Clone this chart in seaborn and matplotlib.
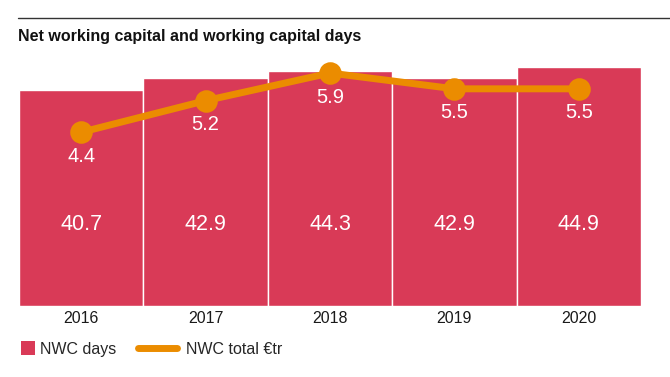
import matplotlib
matplotlib.use("Agg")
import matplotlib.pyplot as plt
import seaborn as sns
import pandas as pd
from matplotlib.patches import Patch
from matplotlib.lines import Line2D

years = ["2016", "2017", "2018", "2019", "2020"]
nwc_days = [40.7, 42.9, 44.3, 42.9, 44.9]
nwc_total = [4.4, 5.2, 5.9, 5.5, 5.5]

title = "Net working capital and working capital days"
legend_labels = ["NWC days", "NWC total €tr"]

RED = "#D93A57"
ORANGE = "#EB8C00"

sns.set_theme(style="white")
plt.rcParams["font.family"] = ["Liberation Sans", "DejaVu Sans"]

df = pd.DataFrame({"year": years, "days": nwc_days, "total": nwc_total})

fig = plt.figure(figsize=(6.7, 3.77), dpi=100)
ax = fig.add_axes([19 / 670, 71 / 377, 622 / 670, 246 / 377])

sns.barplot(data=df, x="year", y="days", color=RED, saturation=1, width=1,
            edgecolor="white", linewidth=1, ax=ax)
ax.set_ylim(0, 46.3)
ax.set_xlim(-0.5, 4.5)

for i, v in enumerate(nwc_days):
    ax.text(i, 15.4, f"{v}", ha="center", va="center", color="white", fontsize=15.5)

ax2 = ax.twinx()
sns.pointplot(data=df, x="year", y="total", color=ORANGE, ax=ax2,
              markersize=12.5, linewidth=5)
ax2.set_ylim(0, 6.23)
ax2.set_xlim(-0.5, 4.5)
for i, v in enumerate(nwc_total):
    ax2.annotate(f"{v}", (i, v), xytext=(0, -24), textcoords="offset pixels",
                 ha="center", va="center", color="white", fontsize=14.5)

for a in (ax, ax2):
    for s in a.spines.values():
        s.set_visible(False)
    a.set_yticks([])
    a.set_ylabel("")
    a.set_xlabel("")
ax.tick_params(axis="x", length=0, pad=3.5, labelsize=11.5, labelcolor="#1a1a1a")
ax2.tick_params(axis="x", length=0)

fig.add_artist(Line2D([18 / 670, 1.0], [1 - 18 / 377, 1 - 18 / 377],
                      color="#333333", linewidth=1, transform=fig.transFigure))
fig.text(18 / 670, 1 - 37 / 377, title, fontsize=11.5, fontweight="bold",
         va="center", ha="left", color="#111111")

leg_fs = 11.5
fig.legend([Patch(facecolor=RED, edgecolor="none")], [legend_labels[0]],
           loc="center left", bbox_to_anchor=(21 / 670, 1 - 349 / 377),
           frameon=False, fontsize=leg_fs, handlelength=0.88, handleheight=0.88,
           handletextpad=0.32, borderpad=0, borderaxespad=0)
fig.legend([Line2D([0], [0], color=ORANGE, linewidth=5, solid_capstyle="round")],
           [legend_labels[1]],
           loc="center left", bbox_to_anchor=(138 / 670, 1 - 349 / 377),
           frameon=False, fontsize=leg_fs, handlelength=2.45,
           handletextpad=0.55, borderpad=0, borderaxespad=0)

fig.savefig("out.png", dpi=100)
